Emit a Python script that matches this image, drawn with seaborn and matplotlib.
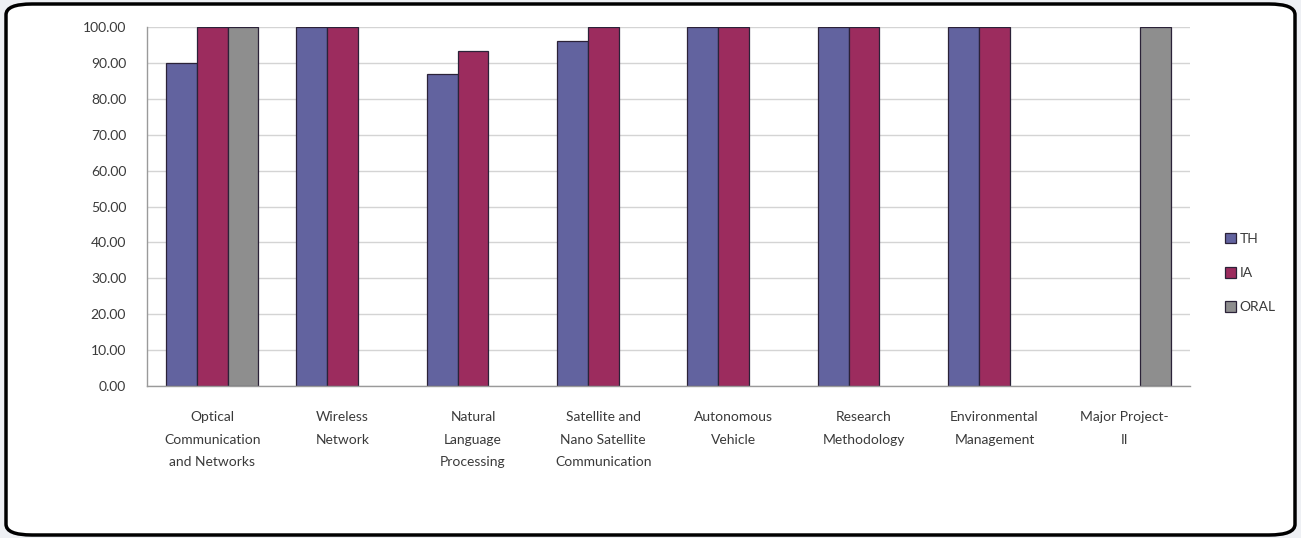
import matplotlib
matplotlib.use("Agg")
import matplotlib.pyplot as plt
import pandas as pd
import seaborn as sns
from matplotlib.patches import FancyBboxPatch
from matplotlib.ticker import FormatStrFormatter

subjects = [
    "Optical\nCommunication\nand Networks",
    "Wireless\nNetwork",
    "Natural\nLanguage\nProcessing",
    "Satellite and\nNano Satellite\nCommunication",
    "Autonomous\nVehicle",
    "Research\nMethodology",
    "Environmental\nManagement",
    "Major Project-\nII",
]
components = ["TH", "IA", "ORAL"]
th_values = [90.0, 100.0, 87.0, 96.0, 100.0, 100.0, 100.0, None]
ia_values = [100.0, 100.0, 93.33, 100.0, 100.0, 100.0, 100.0, None]
oral_values = [100.0, None, None, None, None, None, None, 100.0]

if __name__ == "__main__":
    sns.set_theme(style="white")
    plt.rcParams["font.family"] = ["Lato", "DejaVu Sans"]

    rows = []
    for name, vals in zip(components, [th_values, ia_values, oral_values]):
        for subj, v in zip(subjects, vals):
            if v is not None:
                rows.append({"subject": subj, "component": name, "score": v})
    df = pd.DataFrame(rows)

    fig = plt.figure(figsize=(13.01, 5.38), dpi=100)
    fig.patch.set_facecolor("#eef0f4")
    frame = FancyBboxPatch((6 / 1301, 3 / 538), 1289 / 1301, 531 / 538,
                           boxstyle="round,pad=0,rounding_size=0.02",
                           transform=fig.transFigure, facecolor="white",
                           edgecolor="black", linewidth=2.5, zorder=-5)
    fig.patches.append(frame)

    ax = fig.add_axes([147 / 1301, 1 - 386 / 538, (1190 - 147) / 1301, (386 - 27) / 538])
    ax.set_facecolor("white")
    palette = {"TH": "#62639f", "IA": "#9c2c5e", "ORAL": "#8e8e8e"}
    sns.barplot(data=df, x="subject", y="score", hue="component",
                order=subjects, hue_order=components, palette=palette,
                width=0.71, edgecolor="#2b2238", linewidth=0.9,
                saturation=1, ax=ax)

    ax.set_ylim(0, 100)
    ax.set_xlim(-0.5, len(subjects) - 0.5)
    ax.set_yticks(range(0, 101, 10))
    ax.yaxis.set_major_formatter(FormatStrFormatter("%.2f"))
    ax.yaxis.grid(True, color="#d4d4d4", linewidth=1)
    ax.set_axisbelow(True)
    ax.set_xlabel("")
    ax.set_ylabel("")
    for s in ["top", "right"]:
        ax.spines[s].set_visible(False)
    for s in ["left", "bottom"]:
        ax.spines[s].set_color("#9a9a9a")
        ax.spines[s].set_linewidth(1)
    ax.tick_params(axis="y", length=0, pad=15, labelsize=10, labelcolor="#3a3a3a")
    ax.tick_params(axis="x", length=0, pad=18, labelsize=10, labelcolor="#3a3a3a")
    for lbl in ax.get_xticklabels():
        lbl.set_linespacing(2.05)
        lbl.set_verticalalignment("top")

    ax.legend(title=None, frameon=False, loc="center left",
              bbox_to_anchor=(1212 / 1301, 1 - 273 / 538),
              bbox_transform=fig.transFigure, fontsize=10,
              handlelength=0.8, handleheight=0.8, handletextpad=0.3,
              labelspacing=1.6, labelcolor="#3a3a3a")

    fig.savefig("out.png", dpi=100)
